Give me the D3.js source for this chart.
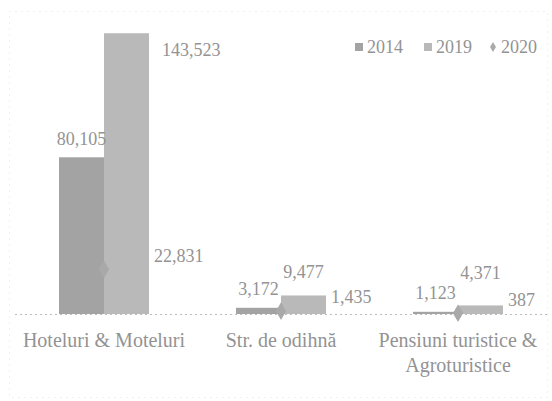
<!DOCTYPE html>
<html>
<head>
<meta charset="utf-8">
<script src="https://cdn.jsdelivr.net/npm/d3@7"></script>
<style>
    body { margin: 0; background: #fff; }
    text { font-family: "Liberation Serif", "Times New Roman", serif; fill: #939393; }
</style>
</head>
<body>
<div id="chart"></div>
<script>
const categories = ["Hoteluri & Moteluri", "Str. de odihnă", "Pensiuni turistice &\nAgroturistice"];
const seriesNames = ["2014", "2019", "2020"];
const values2014 = [80105, 3172, 1123];
const values2019 = [143523, 9477, 4371];
const values2020 = [22831, 1435, 387];

const width = 552, height = 401;
const fmt = d3.format(",");

const colors = { "2014": "#a3a3a3", "2019": "#b9b9b9", "2020": "#a9a9a9" };
// vertical nudges of the 2019 labels (first one sits to the right of the bar)
const label2019Dy = [16, -24, -33];

const svg = d3.select("#chart").append("svg")
    .attr("width", width)
    .attr("height", height);

// faint chart border
svg.append("rect")
    .attr("x", 9.5).attr("y", 11.5)
    .attr("width", 538).attr("height", 386)
    .attr("fill", "none")
    .attr("stroke", "#e2e2e2")
    .attr("stroke-dasharray", "1,5");

const x = d3.scaleBand().domain(categories).range([15.5, 546.5]).padding(0);
const xSub = d3.scaleBand().domain(["2014", "2019"]).range([-45, 45]);
const y = d3.scaleLinear().domain([0, 160000]).range([314, 1]);

const rows = categories.map((c, i) => ({
    cat: c, v2014: values2014[i], v2019: values2019[i], v2020: values2020[i]
}));
const cx = d => x(d.cat) + x.bandwidth() / 2;

// baseline
svg.append("line")
    .attr("x1", 15).attr("x2", 548)
    .attr("y1", y(0) + 0.5).attr("y2", y(0) + 0.5)
    .attr("stroke", "#bdbdbd")
    .attr("stroke-dasharray", "2,3");

// bars
["2014", "2019"].forEach(s => {
    svg.selectAll(".bar" + s).data(rows).enter().append("rect")
        .attr("class", "bar" + s)
        .attr("x", d => cx(d) + xSub(s))
        .attr("width", xSub.bandwidth())
        .attr("y", d => y(d["v" + s]))
        .attr("height", d => y(0) - y(d["v" + s]))
        .attr("fill", colors[s]);
});

// 2020 markers
svg.selectAll(".m2020").data(rows).enter().append("path")
    .attr("class", "m2020")
    .attr("d", d3.symbol().type(d3.symbolDiamond).size(90))
    .attr("transform", d => `translate(${cx(d)},${y(d.v2020)})`)
    .attr("fill", colors["2020"]);

// data labels
svg.selectAll(".l2014").data(rows).enter().append("text")
    .attr("x", d => cx(d) + xSub("2014") + xSub.bandwidth() / 2)
    .attr("y", d => y(d.v2014) - 19)
    .attr("dy", "0.35em")
    .attr("text-anchor", "middle")
    .style("font-size", "18px")
    .text(d => fmt(d.v2014));

svg.selectAll(".l2019").data(rows).enter().append("text")
    .attr("x", (d, i) => i === 0 ? cx(d) + 45 + 13 : cx(d) + xSub("2019") + xSub.bandwidth() / 2)
    .attr("y", (d, i) => y(d.v2019) + label2019Dy[i])
    .attr("dy", "0.35em")
    .attr("text-anchor", (d, i) => i === 0 ? "start" : "middle")
    .style("font-size", "18px")
    .text(d => fmt(d.v2019));

svg.selectAll(".l2020").data(rows).enter().append("text")
    .attr("x", d => cx(d) + 50)
    .attr("y", d => y(d.v2020) - 14)
    .attr("dy", "0.35em")
    .attr("text-anchor", "start")
    .style("font-size", "18px")
    .text(d => fmt(d.v2020));

// category labels
const catText = svg.selectAll(".cat").data(categories).enter().append("text")
    .attr("class", "cat")
    .attr("text-anchor", "middle")
    .attr("x", d => x(d) + x.bandwidth() / 2)
    .attr("y", 347)
    .style("font-size", "20px");
catText.each(function (d) {
    const t = d3.select(this);
    d.split("\n").forEach((line, k) => {
        t.append("tspan")
            .attr("x", x(d) + x.bandwidth() / 2)
            .attr("dy", k === 0 ? 0 : 25)
            .text(line);
    });
});

// legend
const legendX = [355, 424, 489];
const legend = svg.selectAll(".leg").data(seriesNames).enter().append("g")
    .attr("transform", (d, i) => `translate(${legendX[i]},47)`);
legend.each(function (s) {
    const g = d3.select(this);
    if (s === "2020") {
        g.append("path")
            .attr("d", d3.symbol().type(d3.symbolDiamond).size(30))
            .attr("transform", "translate(4,0)")
            .attr("fill", colors[s]);
    } else {
        g.append("rect")
            .attr("x", 0).attr("y", -4)
            .attr("width", 8).attr("height", 8)
            .attr("fill", colors[s]);
    }
    g.append("text")
        .attr("x", 12)
        .attr("dy", "0.35em")
        .style("font-size", "18px")
        .text(s);
});
</script>
</body>
</html>
